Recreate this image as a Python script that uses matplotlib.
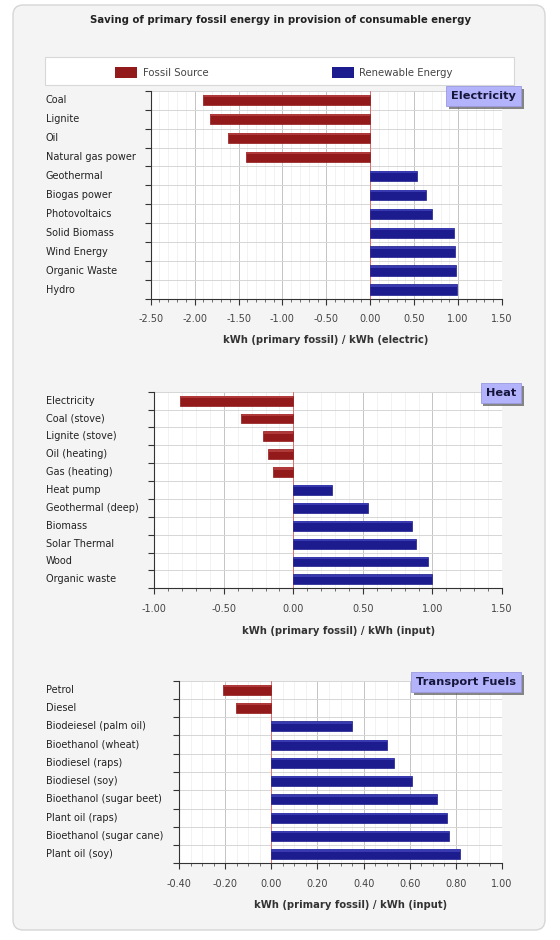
import matplotlib
matplotlib.use("Agg")
import matplotlib.pyplot as plt
import matplotlib.transforms as mtransforms
from matplotlib.patches import FancyBboxPatch, Rectangle
from matplotlib.ticker import MultipleLocator, FormatStrFormatter
import matplotlib.patheffects as pe

# ---------------- data ----------------
title = "Saving of primary fossil energy in provision of consumable energy"
legend_labels = ["Fossil Source", "Renewable Energy"]

elec_labels = ["Coal", "Lignite", "Oil", "Natural gas power", "Geothermal",
               "Biogas power", "Photovoltaics", "Solid Biomass", "Wind Energy",
               "Organic Waste", "Hydro"]
elec_values = [-1.91, -1.82, -1.62, -1.42, 0.53, 0.63, 0.70, 0.95, 0.97, 0.98, 0.99]

heat_labels = ["Electricity", "Coal (stove)", "Lignite (stove)", "Oil (heating)",
               "Gas (heating)", "Heat pump", "Geothermal (deep)", "Biomass",
               "Solar Thermal", "Wood", "Organic waste"]
heat_values = [-0.815, -0.38, -0.22, -0.18, -0.15, 0.28, 0.535, 0.85, 0.88, 0.97, 1.00]

fuel_labels = ["Petrol", "Diesel", "Biodeiesel (palm oil)", "Bioethanol (wheat)",
               "Biodiesel (raps)", "Biodiesel (soy)", "Bioethanol (sugar beet)",
               "Plant oil (raps)", "Bioethanol (sugar cane)", "Plant oil (soy)"]
fuel_values = [-0.21, -0.153, 0.35, 0.50, 0.53, 0.61, 0.72, 0.76, 0.77, 0.82]

panel_titles = ["Electricity", "Heat", "Transport Fuels"]
xlabels = ["kWh (primary fossil) / kWh (electric)",
           "kWh (primary fossil) / kWh (input)",
           "kWh (primary fossil) / kWh (input)"]

# ---------------- style ----------------
W, H = 560, 940
RED = "#921a1a"
RED_HI = "#b03a3a"
BLUE = "#1c1c8e"
BLUE_HI = "#3a3ab0"
FONT = "DejaVu Sans"
plt.rcParams["font.family"] = [FONT]

fig = plt.figure(figsize=(W / 100, H / 100), dpi=100)
fig.patch.set_facecolor("white")


def px(x, y):
    """pixel (from top-left) -> figure fraction"""
    return x / W, 1 - y / H


# outer rounded panel
x0, y0 = px(13, 930)
x1, y1 = px(545, 5)
fig.add_artist(FancyBboxPatch((x0, y0), x1 - x0, y1 - y0,
                              boxstyle="round,pad=0,rounding_size=0.018",
                              transform=fig.transFigure, facecolor="#f4f4f4",
                              edgecolor="#d6d6d6", linewidth=1.0, zorder=0,
                              mutation_aspect=W / H))

# title
tx, ty = px(281, 20)
fig.text(tx, ty, title, ha="center", va="center", fontsize=7.25,
         fontweight="bold", color="#222222")

# legend box
lx0, ly0 = px(45, 85)
lx1, ly1 = px(514, 57)
fig.add_artist(Rectangle((lx0, ly0), lx1 - lx0, ly1 - ly0, transform=fig.transFigure,
                         facecolor="white", edgecolor="#d8d8d8", linewidth=0.8, zorder=1))
for (px0, tx0), col, lab in zip([(115, 143), (332, 359)], [RED, BLUE], legend_labels):
    rx, ry = px(px0, 78)
    fig.add_artist(Rectangle((rx, ry), 22 / W, 11 / H, transform=fig.transFigure,
                             facecolor=col, edgecolor="none", zorder=2))
    tlx, tly = px(tx0, 72.5)
    fig.text(tlx, tly, lab, ha="left", va="center", fontsize=7.3, color="#444444")

# panel layout in pixels: left, top, right, bottom
panels = [
    dict(labels=elec_labels, values=elec_values, box=(150.7, 90.7, 502, 299),
         xlim=(-2.5, 1.5), major=0.5, minor=0.1, label_y=96, xl_y=340),
    dict(labels=heat_labels, values=heat_values, box=(154.3, 391.7, 502, 588.3),
         xlim=(-1.0, 1.5), major=0.5, minor=0.1, label_y=393, xl_y=631),
    dict(labels=fuel_labels, values=fuel_values, box=(179, 680.7, 502, 863.3),
         xlim=(-0.4, 1.0), major=0.2, minor=0.05, label_y=682, xl_y=905),
]

for p, ptitle, xlab in zip(panels, panel_titles, xlabels):
    l, t, r, b = p["box"]
    ax = fig.add_axes([l / W, 1 - b / H, (r - l) / W, (b - t) / H])
    ax.set_facecolor("white")
    n = len(p["labels"])
    ypos = [i + 0.5 for i in range(n)]
    vals = p["values"]
    cols = [RED if v < 0 else BLUE for v in vals]
    his = [RED_HI if v < 0 else BLUE_HI for v in vals]
    bh = 0.55
    ax.barh(ypos, vals, height=bh, color=cols, edgecolor=cols, linewidth=0.5, zorder=3)
    # subtle highlight on top of each bar
    ax.barh([y - bh / 2 + 0.07 for y in ypos], vals, height=0.12, color=his,
            edgecolor="none", zorder=4)
    ax.set_ylim(n, 0)
    ax.set_xlim(*p["xlim"])

    # grid
    ax.xaxis.set_major_locator(MultipleLocator(p["major"]))
    ax.xaxis.set_minor_locator(MultipleLocator(p["minor"]))
    ax.xaxis.set_major_formatter(FormatStrFormatter("%.2f"))
    ax.set_yticks(range(n + 1))
    ax.set_yticklabels([])
    ax.grid(which="major", axis="x", color="#c4c4c4", linewidth=0.7, zorder=1)
    ax.grid(which="minor", axis="x", color="#f0f0f0", linewidth=0.6, zorder=0.5)
    ax.grid(which="major", axis="y", color="#d6d6d6", linewidth=0.7, zorder=1)
    ax.set_axisbelow(True)
    ax.axvline(0, color="#e06060", linewidth=0.6, zorder=2.5)

    for side in ["top", "right"]:
        ax.spines[side].set_visible(False)
    for side in ["left", "bottom"]:
        ax.spines[side].set_color("#333333")
        ax.spines[side].set_linewidth(0.8)

    ax.tick_params(axis="y", which="major", direction="out", length=4.5,
                   width=0.8, color="#333333")
    ax.tick_params(axis="x", which="major", direction="out", length=4, width=0.8,
                   color="#333333", labelsize=7, labelcolor="#444444", pad=7)
    ax.tick_params(axis="x", which="minor", direction="out", length=2, width=0.6,
                   color="#555555")

    # category labels, left aligned at fixed figure x
    trans = mtransforms.blended_transform_factory(fig.transFigure, ax.transData)
    for y, lab in zip(ypos, p["labels"]):
        ax.text(46 / W, y, lab, transform=trans, ha="left", va="center",
                fontsize=7.0, color="#222222", clip_on=False)

    # x label
    xlx, xly = px((l + r) / 2 + 10, p["xl_y"])
    fig.text(326 / W if ptitle == "Electricity" else (xlx), xly, xlab, ha="center",
             va="center", fontsize=7.2, fontweight="bold", color="#333333")

    # panel title box
    bx, by = px(516, p["label_y"])
    txt = fig.text(bx, by, ptitle, ha="right", va="center", fontsize=8.2,
                   color="#15153a", fontweight="bold",
                   bbox=dict(boxstyle="square,pad=0.45", facecolor="#b3b3fb",
                             edgecolor="#9a9ae0", linewidth=0.6), zorder=10)
    txt.get_bbox_patch().set_path_effects(
        [pe.SimplePatchShadow(offset=(2, -2), shadow_rgbFace="#555555", alpha=0.7),
         pe.Normal()])

fig.savefig("out.png", dpi=100, facecolor=fig.get_facecolor())
